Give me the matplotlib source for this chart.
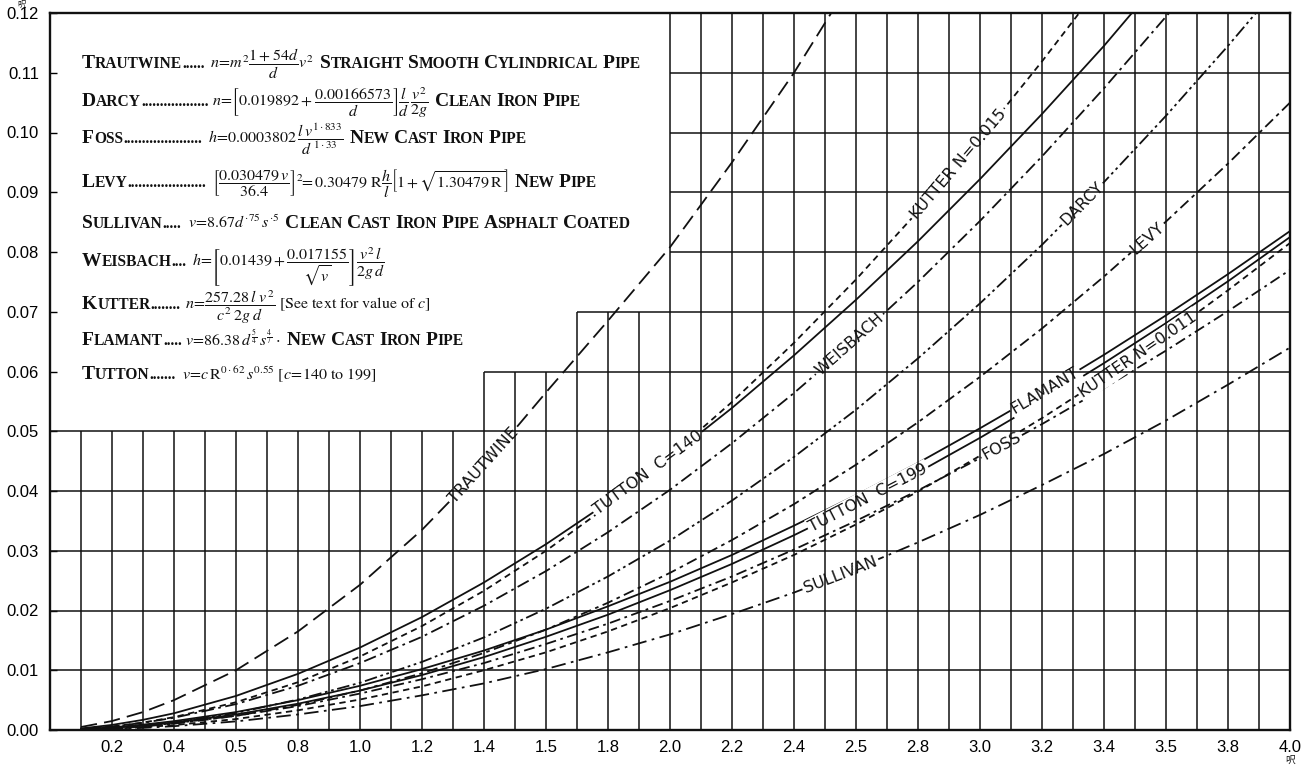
import numpy as np
import matplotlib
matplotlib.use("Agg")
import matplotlib.pyplot as plt
from matplotlib.transforms import IdentityTransform

plt.rcParams['mathtext.fontset'] = 'stix'

# ---- data: velocity (x) vs loss (y) for each formula ----
x_std = [0.1, 0.2, 0.3, 0.4, 0.6, 0.8, 1.0, 1.2, 1.4, 1.6, 1.8, 2.0, 2.2, 2.4, 2.6, 2.8, 3.0, 3.2, 3.4, 3.6, 3.8, 4.0]

trautwine_x = [0.1, 0.2, 0.3, 0.4, 0.6, 0.8, 1.0, 1.2, 1.4, 1.6, 1.8, 2.0, 2.2, 2.4, 2.52]
trautwine_y = [0.0005, 0.0015, 0.0030, 0.0050, 0.0100, 0.0165, 0.0243, 0.0335, 0.0442, 0.0565, 0.0685, 0.0808, 0.0950, 0.1100, 0.1200]

tutton140_x = x_std[:19] + [3.49]
tutton140_y = [0.00026, 0.00085, 0.0017, 0.0028, 0.0057, 0.0094, 0.0138, 0.0189, 0.0247, 0.0311, 0.0381, 0.0457,
               0.0539, 0.0627, 0.0720, 0.0818, 0.0922, 0.1031, 0.1145, 0.1200]

kutter015_x = x_std[:18] + [3.32]
kutter015_y = [0.00016, 0.00058, 0.00125, 0.00215, 0.00465, 0.0080, 0.0123, 0.0174, 0.0233, 0.0300, 0.0375, 0.0458,
               0.0549, 0.0648, 0.0754, 0.0868, 0.0990, 0.1119, 0.1200]

weisbach_x = x_std[:19] + [3.61]
weisbach_y = [0.00016, 0.00057, 0.0012, 0.00205, 0.00434, 0.0074, 0.0112, 0.0156, 0.0208, 0.0266, 0.0331, 0.0402,
              0.0480, 0.0564, 0.0654, 0.0750, 0.0852, 0.0960, 0.1074, 0.1200]

darcy_x = x_std[:21] + [3.89]
darcy_y = [0.00008, 0.00032, 0.00071, 0.00127, 0.00285, 0.0051, 0.0079, 0.0114, 0.0155, 0.0203, 0.0257, 0.0317,
           0.0384, 0.0457, 0.0536, 0.0622, 0.0714, 0.0812, 0.0917, 0.1028, 0.1145, 0.1200]

levy_y = [0.00007, 0.00026, 0.00059, 0.00105, 0.00236, 0.0042, 0.0066, 0.0095, 0.0129, 0.0168, 0.0213, 0.0263,
          0.0318, 0.0378, 0.0444, 0.0515, 0.0591, 0.0672, 0.0759, 0.0851, 0.0948, 0.1050]

flamant_y = [0.00013, 0.00044, 0.0009, 0.00148, 0.0030, 0.0050, 0.0074, 0.0102, 0.0133, 0.0168, 0.0207, 0.0248,
             0.0293, 0.0342, 0.0393, 0.0447, 0.0505, 0.0565, 0.0628, 0.0694, 0.0763, 0.0835]

tutton199_y = [0.0001, 0.00036, 0.00074, 0.00125, 0.0026, 0.0044, 0.0066, 0.0092, 0.0122, 0.0156, 0.0193, 0.0234,
               0.0278, 0.0326, 0.0377, 0.0431, 0.0489, 0.0550, 0.0614, 0.0681, 0.0751, 0.0825]

kutter011_y = [0.00005, 0.0002, 0.00046, 0.00082, 0.00183, 0.0033, 0.0051, 0.0073, 0.0100, 0.0130, 0.0165, 0.0204,
               0.0247, 0.0293, 0.0344, 0.0399, 0.0459, 0.0522, 0.0589, 0.0660, 0.0736, 0.0815]

foss_y = [0.00009, 0.00032, 0.00067, 0.00113, 0.00238, 0.0040, 0.0061, 0.0085, 0.0112, 0.0144, 0.0178, 0.0216,
          0.0257, 0.0302, 0.0350, 0.0401, 0.0455, 0.0512, 0.0572, 0.0635, 0.0701, 0.0770]

sullivan_y = [0.00004, 0.00016, 0.00036, 0.00064, 0.00144, 0.0026, 0.0040, 0.0058, 0.0078, 0.0102, 0.0130, 0.0160,
              0.0194, 0.0230, 0.0270, 0.0314, 0.0360, 0.0410, 0.0462, 0.0518, 0.0578, 0.0640]

xtick_pos = [0.2, 0.4, 0.6, 0.8, 1.0, 1.2, 1.4, 1.6, 1.8, 2.0, 2.2, 2.4, 2.6, 2.8, 3.0, 3.2, 3.4, 3.6, 3.8, 4.0]
xtick_lab = ['0.2', '0.4', '0.5', '0.8', '1.0', '1.2', '1.4', '1.5', '1.8', '2.0',
             '2.2', '2.4', '2.5', '2.8', '3.0', '3.2', '3.4', '3.5', '3.8', '4.0']
ytick_pos = [0.00, 0.01, 0.02, 0.03, 0.04, 0.05, 0.06, 0.07, 0.08, 0.09, 0.10, 0.11, 0.12]

# the formula box sits in the top-left corner with a stepped lower edge
box_edge_y = [0.05, 0.06, 0.07]
box_edge_x = [1.4, 1.7, 2.0]

# curve: (x, y, dashes, label, label x)
curves = [
    (trautwine_x, trautwine_y, (9, 4), 'TRAUTWINE', 1.40),
    (kutter015_x, kutter015_y, (3.5, 2.5), 'KUTTER N=0.015', 2.93),
    (tutton140_x, tutton140_y, None, 'TUTTON  C=140', 1.93),
    (weisbach_x, weisbach_y, (7, 2.5, 1.5, 2.5), 'WEISBACH', 2.58),
    (darcy_x, darcy_y, (7, 2, 1.5, 2, 1.5, 2), 'DARCY', 3.33),
    (x_std, levy_y, (6, 2.5, 2, 2.5), 'LEVY', 3.54),
    (x_std, flamant_y, None, 'FLAMANT', 3.21),
    (x_std, tutton199_y, None, 'TUTTON  C=199', 2.64),
    (x_std, kutter011_y, (3.5, 2.5), 'KUTTER N=0.011', 3.51),
    (x_std, foss_y, (6, 2.5, 1.5, 2.5), 'FOSS', 3.07),
    (x_std, sullivan_y, (8, 3, 1.5, 3), 'SULLIVAN', 2.55),
]

W, H = 1302, 768
fig = plt.figure(figsize=(W / 100, H / 100), dpi=100)
ax = fig.add_axes([50 / W, 38 / H, 1240 / W, 717 / H])
ax.set_xlim(0, 4.0)
ax.set_ylim(0, 0.12)

INK = '#111111'

# grid, leaving the formula box empty
def box_top(x):
    for ey, ex in zip(box_edge_y, box_edge_x):
        if x < ex - 1e-6:
            return ey
    return 0.12

def box_left(y):
    if y <= box_edge_y[0] + 1e-6:
        return 0.0
    for ey, ex in zip(box_edge_y[1:] + [1.0], box_edge_x):
        if y <= ey + 1e-6:
            return ex
    return box_edge_x[-1]

vx = np.round(np.arange(1, 40) * 0.1, 2)
ax.vlines(vx, 0, [box_top(x) for x in vx], color=INK, lw=1.1, zorder=3)
hy = np.round(np.arange(1, 12) * 0.01, 2)
ax.hlines(hy, [box_left(y) for y in hy], 4.0, color=INK, lw=1.1, zorder=3)

for s in ax.spines.values():
    s.set_linewidth(1.7)
    s.set_color(INK)

ax.set_xticks(xtick_pos)
ax.set_xticklabels(xtick_lab)
ax.set_yticks(ytick_pos)
ax.set_yticklabels(['%.2f' % v for v in ytick_pos])
ax.tick_params(axis='x', length=0, pad=7, labelsize=12)
ax.tick_params(axis='y', direction='in', length=5, width=1, pad=8, labelsize=12)
for t in ax.get_xticklabels() + ax.get_yticklabels():
    t.set_family(['Liberation Sans', 'DejaVu Sans'])

# curves and their inline labels
for xs, ys, dash, lab, lx in curves:
    ln, = ax.plot(xs, ys, color=INK, lw=1.3, zorder=2)
    if dash:
        ln.set_dashes(dash)
    ly = np.interp(lx, xs, ys)
    p1 = ax.transData.transform((lx - 0.05, np.interp(lx - 0.05, xs, ys)))
    p2 = ax.transData.transform((lx + 0.05, np.interp(lx + 0.05, xs, ys)))
    ang = np.degrees(np.arctan2(p2[1] - p1[1], p2[0] - p1[0]))
    ax.text(lx, ly, lab, rotation=ang, rotation_mode='anchor', ha='center', va='center',
            fontsize=11.5, family=['Liberation Sans Narrow', 'DejaVu Sans'], color=INK, zorder=2.5,
            bbox=dict(facecolor='white', edgecolor='none', pad=1.5))

# unit marks
ax.text(4.0, -0.042, '呎', transform=ax.get_xaxis_transform(), ha='center', va='center',
        fontsize=7, family=['Noto Sans CJK JP', 'DejaVu Sans'], color=INK)
fig.text(22 / W, 1.0, '呎', ha='center', va='top', fontsize=6,
         family=['Noto Sans CJK JP', 'DejaVu Sans'], color=INK)

# ---- the formula box text ----
SERIF = ['Liberation Serif', 'DejaVu Serif']
BIG, SMALL, MATH = 14, 11.2, 11.5
renderer = fig.canvas.get_renderer()


def put(s, x, y, size, family=SERIF, weight='normal'):
    t = fig.text(x, y, s, fontsize=size, family=family, weight=weight, color=INK,
                 ha='left', va='baseline', transform=IdentityTransform())
    return x + t.get_window_extent(renderer).width


def caps(s, x, y):
    # small capitals: upper case letters big, the rest shrunk
    for i, word in enumerate(s.split(' ')):
        if i:
            x += 0.3 * BIG
        chunk, size = '', None
        for ch in word:
            sz = BIG if ch.isupper() else SMALL
            if size is not None and sz != size:
                x = put(chunk, x, y, size, weight='bold')
                chunk = ''
            chunk += ch.upper()
            size = sz
        if chunk:
            x = put(chunk, x, y, size, weight='bold')
    return x


rows = [
    ('Trautwine', 210, r'$n\!=\!m^2\dfrac{1+54d}{d}v^2$', 'Straight Smooth Cylindrical Pipe'),
    ('Darcy', 212, r'$n\!=\!\left[0.019892+\dfrac{0.00166573}{d}\right]\dfrac{l}{d}\,\dfrac{v^2}{2g}$', 'Clean Iron Pipe'),
    ('Foss', 208, r'$h\!=\!0.0003802\,\dfrac{l\,v^{1\cdot833}}{d^{\,1\cdot33}}$', 'New Cast Iron Pipe'),
    ('Levy', 212, r'$\left[\dfrac{0.030479\,v}{36.4}\right]^2\!\!=0.30479\ \mathrm{R}\dfrac{h}{l}\left[1+\sqrt{1.30479\,\mathrm{R}}\right]$', 'New Pipe'),
    ('Sullivan', 188, r'$v\!=\!8.67d^{\cdot75}\,s^{\cdot5}$', 'Clean Cast Iron Pipe Asphalt Coated'),
    ('Weisbach', 192, r'$h\!=\!\left[0.01439+\dfrac{0.017155}{\sqrt{v}}\right]\dfrac{v^2\,l}{2g\,d}$', ''),
    ('Kutter', 185, r'$n\!=\!\dfrac{257.28\,l\ v^2}{c^2\,2g\ d}\ [\mathrm{See\ text\ for\ value\ of}\ c]$', ''),
    ('Flamant', 185, r'$v\!=\!86.38\,d^{\frac{5}{4}}\,s^{\frac{4}{7}}\cdot$', 'New Cast Iron Pipe'),
    ('Tutton', 182, r'$v\!=\!c\,\mathrm{R}^{0\cdot62}\,s^{0.55}\ [c\!=\!140\ \mathrm{to}\ 199]$', ''),
]
row_py = [68, 106, 143, 187, 228, 266, 309, 345, 379]   # baselines, pixels from top

probe = fig.text(0, 0, '.', fontsize=SMALL, family=SERIF, weight='bold', transform=IdentityTransform())
dot_w = probe.get_window_extent(renderer).width
probe.remove()
for (name, fx, formula, desc), py in zip(rows, row_py):
    y = H - py
    x = caps(name, 82, y)
    fx = max(fx, x + 3 * dot_w + 6)
    n = max(3, int((fx - x - 3) / dot_w))
    put('.' * n, x, y, SMALL, weight='bold')
    x = put(formula, fx, y, MATH)
    if desc:
        caps(desc, x + 6, y)

fig.savefig('out.png', dpi=100)
